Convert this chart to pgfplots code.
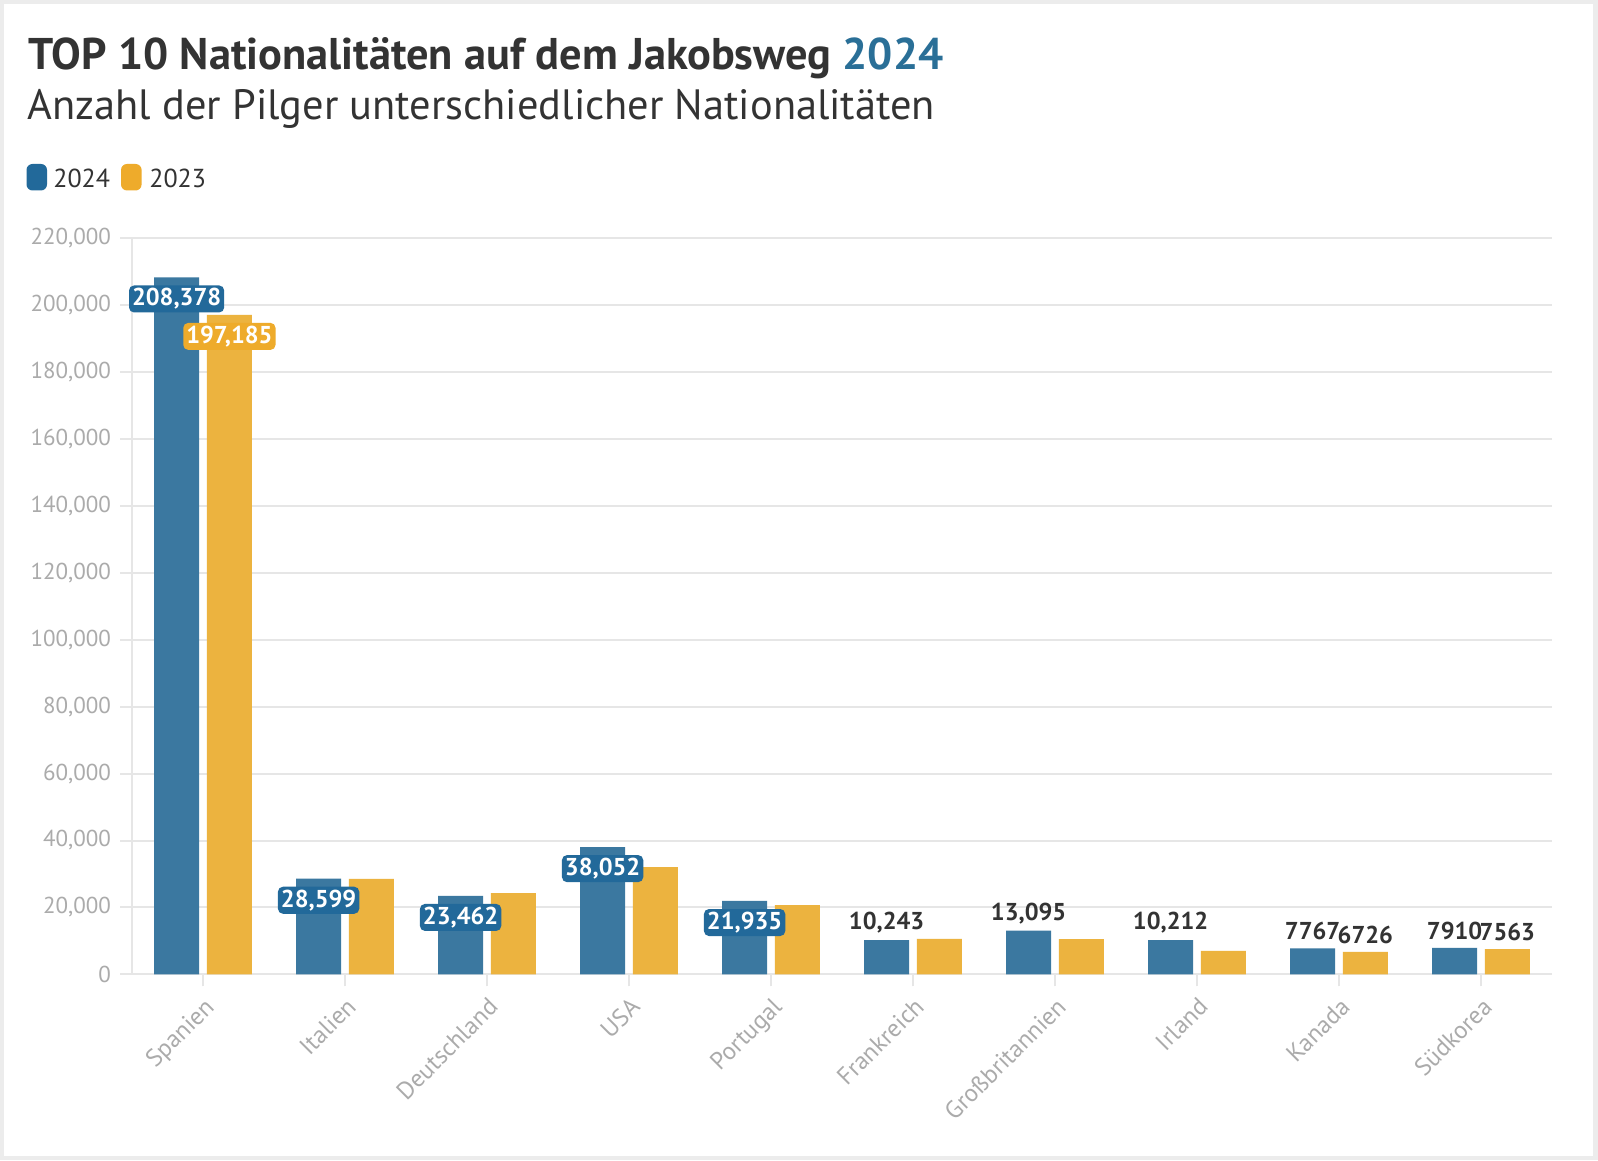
\documentclass[border=0pt]{standalone}
\usepackage{fontspec}
\setmainfont{PT Sans}
\usepackage{pgfplots}
\usepackage{pgfplotstable}
\pgfplotsset{compat=1.18}
\definecolor{bblue}{HTML}{3B78A0}
\definecolor{byellow}{HTML}{ECB33F}
\definecolor{lblue}{HTML}{22699A}
\definecolor{lyellow}{HTML}{EEAB2B}
\definecolor{tblue}{HTML}{2A6F97}
\definecolor{darktxt}{HTML}{333333}
\definecolor{gridc}{HTML}{E6E6E6}
\definecolor{tickc}{HTML}{ABABAB}
\definecolor{framec}{HTML}{ECECEC}
\tikzset{
  inlab/.style={anchor=center, yshift=-10.8pt, text=white, font=\bfseries\fontsize{12.2}{14}\selectfont, rounded corners=2.5pt, inner sep=1.5pt},
  outlab/.style={anchor=center, yshift=8.6pt, text=darktxt, fill=none, font=\bfseries\fontsize{12.2}{14}\selectfont, inner sep=1pt},
}

\pgfplotstableread{
x v24 v23
0 208378 197185
1 28599 28550
2 23462 24250
3 38052 32050
4 21935 20650
5 10243 10600
6 13095 10500
7 10212 7000
8 7767 6726
9 7910 7563
}\datatable

\begin{document}
\begin{tikzpicture}[x=1pt,y=1pt]
\fill[framec] (0,0) rectangle (799,580);
\fill[white] (2,2) rectangle (796.5,578);
\begin{axis}[
  at={(66pt,92.85pt)}, anchor=south west,
  scale only axis, width=710pt, height=367.9pt,
  xmin=-0.5, xmax=9.5, ymin=0, ymax=220000,
  ytick={0,20000,...,220000},
  xtick={0,...,9},
  xticklabels={Spanien,Italien,Deutschland,USA,Portugal,Frankreich,Großbritannien,Irland,Kanada,Südkorea},
  ymajorgrids,
  major grid style={draw=gridc, line width=1pt},
  axis x line*=bottom, axis y line*=left,
  axis line style={draw=gridc, line width=1pt, -},
  tick align=outside, major tick length=6pt,
  tick style={draw=gridc, line width=1pt},
  scaled y ticks=false,
  yticklabel style={font=\fontsize{11.5}{13}\selectfont, text=tickc, xshift=-1pt},
  xticklabel style={font=\fontsize{12.3}{14}\selectfont, text=tickc, rotate=45, anchor=north east},
  /pgf/number format/fixed,
  /pgf/number format/precision=0,
  /pgf/number format/1000 sep={,},
  /pgf/number format/min exponent for 1000 sep=4,
  /pgf/number format/assume math mode=true,
]
\addplot[ybar, bar width=22.5pt, bar shift=-13.2pt, fill=bblue, draw=none] table[x=x,y=v24]{\datatable};
\addplot[ybar, bar width=22.5pt, bar shift=13.2pt, fill=byellow, draw=none] table[x=x,y=v23]{\datatable};
% labels 2024 inside
\addplot[ybar, bar width=22.5pt, bar shift=-13.2pt, draw=none, fill=none, forget plot,
  skip coords between index={5}{10},
  nodes near coords, every node near coord/.style={inlab, fill=lblue, xshift=-13.2pt}] table[x=x,y=v24]{\datatable};
% labels 2024 above
\addplot[ybar, bar width=22.5pt, bar shift=-13.2pt, draw=none, fill=none, forget plot,
  skip coords between index={0}{5},
  nodes near coords, every node near coord/.style={outlab, xshift=-13.2pt}] table[x=x,y=v24]{\datatable};
% labels 2023 inside
\addplot[ybar, bar width=22.5pt, bar shift=13.2pt, draw=none, fill=none, forget plot,
  skip coords between index={1}{10},
  nodes near coords, every node near coord/.style={inlab, fill=lyellow, xshift=13.2pt}] table[x=x,y=v23]{\datatable};
% labels 2023 above
\addplot[ybar, bar width=22.5pt, bar shift=13.2pt, draw=none, fill=none, forget plot,
  skip coords between index={0}{8},
  nodes near coords, every node near coord/.style={outlab, xshift=13.2pt}] table[x=x,y=v23]{\datatable};
\end{axis}
% title, subtitle
\node[anchor=base west, inner sep=0, text=darktxt, font=\bfseries\fontsize{22.2}{26}\selectfont] at (14,545.3) {TOP 10 Nationalitäten auf dem Jakobsweg \textcolor{tblue}{2024}};
\node[anchor=base west, inner sep=0, text=darktxt, font=\fontsize{21.2}{26}\selectfont] at (13.5,520) {Anzahl der Pilger unterschiedlicher Nationalitäten};
% legend
\fill[lblue, rounded corners=3pt] (13.25,484.75) rectangle (23.5,498);
\node[anchor=base west, inner sep=0, text=darktxt, font=\fontsize{13}{15}\selectfont] at (26.5,486.25) {2024};
\fill[lyellow, rounded corners=3pt] (60.5,484.75) rectangle (70.8,498);
\node[anchor=base west, inner sep=0, text=darktxt, font=\fontsize{13}{15}\selectfont] at (74.5,486.25) {2023};
\end{tikzpicture}
\end{document}
